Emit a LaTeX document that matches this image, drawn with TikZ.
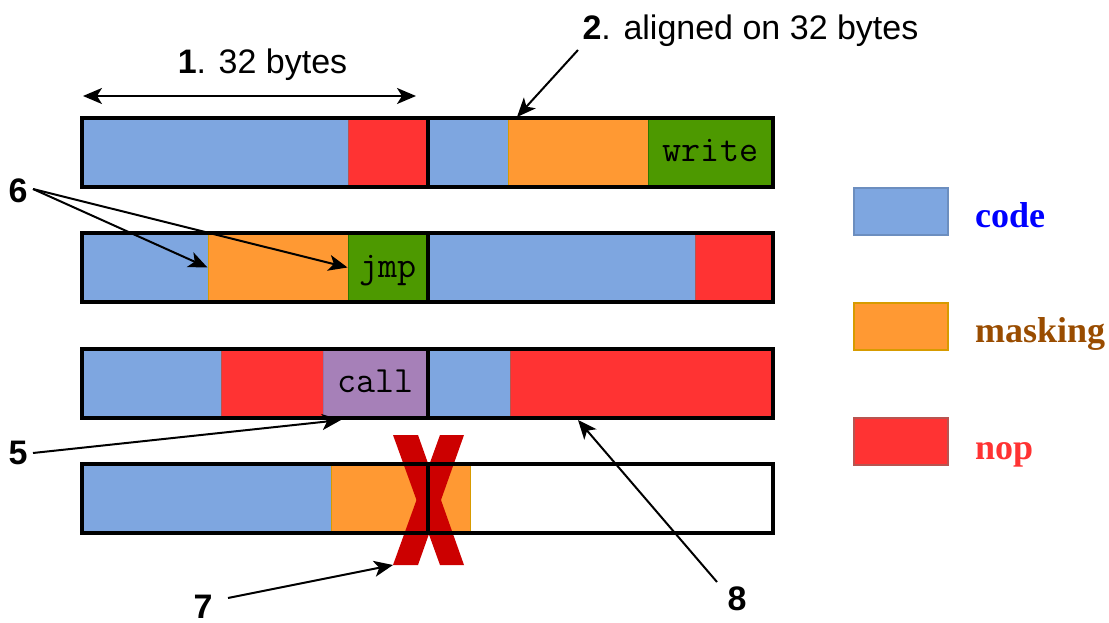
\documentclass[tikz,border=0pt]{standalone}
\usepackage{fontspec}
\setmainfont{Liberation Sans}
\newfontfamily\legendfont{Liberation Serif}
\usetikzlibrary{arrows.meta}

% fill / stroke pairs for the segment kinds
\definecolor{codefill}{HTML}{7EA6E0}
\definecolor{codeline}{HTML}{6C8EBF}
\definecolor{maskfill}{HTML}{FF9933}
\definecolor{maskline}{HTML}{D79B00}
\definecolor{nopfill}{HTML}{FF3333}
\definecolor{nopline}{HTML}{B85450}
\definecolor{opfill}{HTML}{4D9900}
\definecolor{opline}{HTML}{2D7600}
\definecolor{callfill}{HTML}{A680B8}
\definecolor{callline}{HTML}{9673A6}
\definecolor{crossred}{HTML}{CC0000}
\definecolor{codetext}{HTML}{0000FF}
\definecolor{masktext}{HTML}{994C00}
\definecolor{noptext}{HTML}{FF3333}

\begin{document}
\begin{tikzpicture}[x=1pt,y=-1pt,
  seg/.style={rectangle, inner sep=0pt, minimum height=69pt, line width=1pt},
  code/.style={seg, fill=codefill, draw=codeline},
  mask/.style={seg, fill=maskfill, draw=maskline},
  nop/.style={seg, fill=nopfill, draw=nopline},
  op/.style={seg, fill=opfill, draw=opline, text height=19pt, text depth=0pt,
             font=\ttfamily\fontsize{37}{37}\selectfont},
  callop/.style={op, fill=callfill, draw=callline},
  frame/.style={rectangle, inner sep=0pt, minimum height=69pt, draw=black, line width=4pt},
  lbl/.style={inner sep=0pt, font=\fontsize{34}{40}\selectfont\bfseries},
  caption/.style={inner sep=0pt, anchor=base, font=\fontsize{34}{40}\selectfont},
  ptr/.style={line width=2pt, -{Stealth[length=19pt, width=16pt, inset=5pt]}},
  swatch/.style={rectangle, inner sep=0pt, minimum width=94pt, minimum height=47pt, line width=1.5pt},
  legend/.style={inner sep=0pt, anchor=base west, font=\legendfont\fontsize{36}{40}\selectfont\bfseries},
]
\useasboundingbox (0,0) rectangle (1109,623);

% row 1
\node[code, minimum width=266pt] (r1a) at (215,152.5) {};
\node[nop,  minimum width=80pt]  (r1b) at (388,152.5) {};
\node[code, minimum width=80pt]  (r1c) at (468,152.5) {};
\node[mask, minimum width=140pt] (r1d) at (578,152.5) {};
\node[op,   minimum width=125pt] (r1e) at (710.5,152.5) {write};

% row 2
\node[code, minimum width=126pt] (r2a) at (145,267.5) {};
\node[mask, minimum width=140pt] (r2b) at (278,267.5) {};
\node[op,   minimum width=80pt]  (r2c) at (388,267.5) {jmp};
\node[code, minimum width=267pt] (r2d) at (561.5,267.5) {};
\node[nop,  minimum width=78pt]  (r2e) at (734,267.5) {};

% row 3
\node[code,   minimum width=139pt] (r3a) at (151.5,383) {};
\node[nop,    minimum width=102pt] (r3b) at (272,383) {};
\node[callop, minimum width=105pt] (r3c) at (375.5,383) {call};
\node[code,   minimum width=82pt]  (r3d) at (469,383) {};
\node[nop,    minimum width=263pt] (r3e) at (641.5,383) {};

% row 4
\node[code, minimum width=249pt] (r4a) at (206.5,498.5) {};
\node[mask, minimum width=139pt] (r4b) at (400.5,498.5) {};

% the cross over the boundary of row 4
\fill[crossred] (393,435) -- (418,435) -- (464,565) -- (440,565) -- cycle;
\fill[crossred] (440,435) -- (464,435) -- (418,565) -- (393,565) -- cycle;
\coordinate (xfoot) at (393,565);

% 32-byte block frames
\foreach \r/\y in {1/152.5, 2/267.5, 3/383, 4/498.5} {
  \node[frame, minimum width=346pt] (f\r l) at (255,\y) {};
  \node[frame, minimum width=345pt] (f\r r) at (600.5,\y) {};
}

% block size marker
\coordinate (w1) at (83,96);
\coordinate (w2) at (416,96);
\draw[line width=2pt, {Stealth[length=19pt, width=16pt, inset=5pt]}-{Stealth[length=19pt, width=16pt, inset=5pt]}] (w1) -- (w2);
\node[caption] (t1) at (262.5,74) {\textbf{1}. 32 bytes};

% alignment note
\node[caption] (t2) at (750.5,40) {\textbf{2}. aligned on 32 bytes};
\coordinate (s2) at (578,50);
\coordinate (e2) at (517,117);
\draw[ptr] (s2) -- (e2);

% numbered callouts
\node[lbl, anchor=base] (n6) at (18,202) {6};
\coordinate (s6) at (33,189);
\draw[ptr] (s6) -- (r2b.west);
\draw[ptr] (s6) -- (r2c.west);

\node[lbl, anchor=base] (n5) at (18,464) {5};
\coordinate (s5) at (33,453);
\coordinate (e5) at (341,420);
\draw[ptr] (s5) -- (e5);

\node[lbl, anchor=base] (n7) at (203,618) {7};
\coordinate (s7) at (228,598);
\draw[ptr] (s7) -- (xfoot);

\node[lbl, anchor=base] (n8) at (737,610) {8};
\coordinate (s8) at (717,582);
\coordinate (e8) at (578,420);
\draw[ptr] (s8) -- (e8);

% legend
\node[swatch, fill=codefill, draw=codeline] (k1) at (901,211.5) {};
\node[swatch, fill=maskfill, draw=maskline] (k2) at (901,326.5) {};
\node[swatch, fill=nopfill,  draw=nopline]  (k3) at (901,441.5) {};
\node[legend, text=codetext] (l1) at (975,227) {code};
\node[legend, text=masktext] (l2) at (975,342) {masking};
\node[legend, text=noptext]  (l3) at (975,459) {nop};
\end{tikzpicture}
\end{document}
